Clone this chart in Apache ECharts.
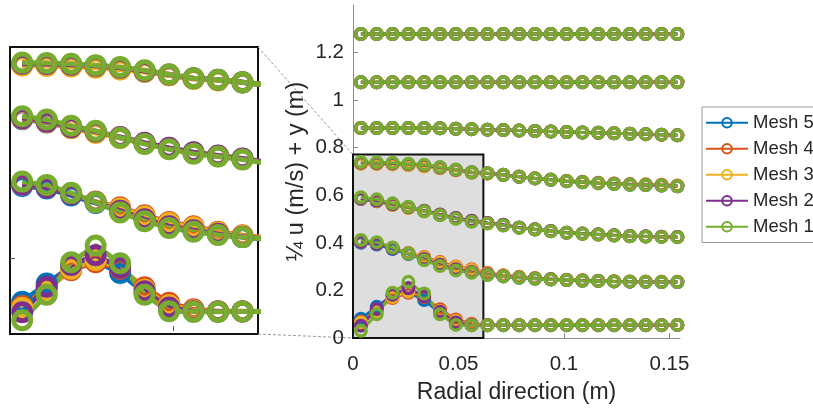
<!DOCTYPE html>
<html><head><meta charset="utf-8">
<script src="https://cdn.jsdelivr.net/npm/echarts@6/dist/echarts.min.js"></script>
<style>html,body{margin:0;padding:0;background:#fff}#c{width:813px;height:412px}</style>
</head><body><div id="c"></div>
<script>
const meshNames = ['Mesh 5', 'Mesh 4', 'Mesh 3', 'Mesh 2', 'Mesh 1'];
const meshColors = ['#0072BD', '#D95319', '#EDB120', '#7E2F8E', '#77AC30'];
const xPos = [0.00375, 0.01125, 0.01875, 0.02625, 0.03375, 0.04125, 0.04875, 0.05625, 0.06375, 0.07125, 0.07875, 0.08625, 0.09375, 0.10125, 0.10875, 0.11625, 0.12375, 0.13125, 0.13875, 0.14625, 0.15375];
const xTickValues = [0, 0.05, 0.1, 0.15];
const yTickValues = [0, 0.2, 0.4, 0.6, 0.8, 1, 1.2];
const insetXTickValues = [0.05];
const insetYTickValues = [0.2, 0.4, 0.6];
const zoomBoxX = [0, 0.0618];
const zoomBoxY = [0, 0.771];
const insetRangeX = [0, 0.076];
const insetRangeY = [-0.008, 0.783];

const p0_mesh1 = [0.030, 0.100, 0.190, 0.236, 0.187, 0.100, 0.055, 0.053, 0.053, 0.054, 0.054, 0.054, 0.054, 0.054, 0.054, 0.054, 0.054, 0.054, 0.054, 0.054, 0.055];
const p0_mesh2 = [0.052, 0.122, 0.182, 0.209, 0.175, 0.110, 0.065, 0.055, 0.054, 0.054, 0.054, 0.054, 0.054, 0.054, 0.054, 0.054, 0.054, 0.054, 0.054, 0.054, 0.055];
const p0_mesh3 = [0.064, 0.114, 0.172, 0.196, 0.178, 0.114, 0.071, 0.057, 0.054, 0.054, 0.054, 0.054, 0.054, 0.054, 0.054, 0.054, 0.054, 0.054, 0.054, 0.054, 0.055];
const p0_mesh4 = [0.069, 0.117, 0.168, 0.190, 0.172, 0.121, 0.078, 0.060, 0.055, 0.055, 0.054, 0.054, 0.054, 0.054, 0.054, 0.054, 0.054, 0.054, 0.054, 0.054, 0.055];
const p0_mesh5 = [0.081, 0.131, 0.178, 0.192, 0.160, 0.105, 0.060, 0.055, 0.054, 0.054, 0.054, 0.054, 0.054, 0.054, 0.054, 0.054, 0.054, 0.054, 0.054, 0.054, 0.055];

const p1_mesh1 = [0.412, 0.403, 0.381, 0.355, 0.327, 0.303, 0.284, 0.274, 0.265, 0.259, 0.253, 0.249, 0.246, 0.244, 0.241, 0.240, 0.238, 0.237, 0.236, 0.235, 0.235];
const p1_mesh2 = [0.404, 0.396, 0.377, 0.355, 0.332, 0.308, 0.289, 0.278, 0.268, 0.260, 0.254, 0.250, 0.247, 0.244, 0.242, 0.240, 0.238, 0.237, 0.236, 0.235, 0.235];
const p1_mesh3 = [0.404, 0.397, 0.378, 0.356, 0.338, 0.316, 0.298, 0.286, 0.272, 0.263, 0.256, 0.251, 0.247, 0.245, 0.242, 0.240, 0.239, 0.238, 0.237, 0.236, 0.236];
const p1_mesh4 = [0.405, 0.398, 0.379, 0.357, 0.341, 0.319, 0.301, 0.289, 0.274, 0.264, 0.257, 0.252, 0.248, 0.245, 0.243, 0.241, 0.239, 0.238, 0.237, 0.236, 0.236];
const p1_mesh5 = [0.400, 0.393, 0.374, 0.353, 0.330, 0.310, 0.290, 0.277, 0.266, 0.259, 0.253, 0.249, 0.246, 0.244, 0.241, 0.240, 0.238, 0.237, 0.236, 0.235, 0.235];

const p2_mesh1 = [0.592, 0.583, 0.566, 0.552, 0.533, 0.516, 0.501, 0.489, 0.481, 0.473, 0.463, 0.456, 0.449, 0.442, 0.438, 0.435, 0.431, 0.428, 0.427, 0.425, 0.424];
const p2_mesh2 = [0.587, 0.578, 0.562, 0.550, 0.535, 0.519, 0.505, 0.493, 0.484, 0.476, 0.465, 0.457, 0.450, 0.443, 0.439, 0.436, 0.432, 0.429, 0.428, 0.426, 0.425];
const p2_mesh3 = [0.586, 0.577, 0.559, 0.546, 0.532, 0.517, 0.503, 0.491, 0.482, 0.474, 0.464, 0.456, 0.449, 0.442, 0.438, 0.435, 0.431, 0.428, 0.427, 0.425, 0.424];
const p2_mesh4 = [0.585, 0.576, 0.560, 0.548, 0.534, 0.518, 0.504, 0.492, 0.483, 0.475, 0.464, 0.457, 0.450, 0.443, 0.439, 0.435, 0.432, 0.429, 0.427, 0.426, 0.425];
const p2_mesh5 = [0.584, 0.575, 0.561, 0.549, 0.533, 0.517, 0.503, 0.491, 0.482, 0.474, 0.464, 0.456, 0.449, 0.442, 0.438, 0.435, 0.431, 0.428, 0.427, 0.425, 0.424];

const p3_mesh1 = [0.740, 0.739, 0.737, 0.733, 0.728, 0.719, 0.708, 0.697, 0.693, 0.686, 0.678, 0.671, 0.665, 0.659, 0.655, 0.651, 0.647, 0.644, 0.643, 0.641, 0.638];
const p3_mesh2 = [0.737, 0.736, 0.734, 0.731, 0.726, 0.717, 0.707, 0.697, 0.693, 0.686, 0.678, 0.671, 0.665, 0.659, 0.655, 0.651, 0.648, 0.645, 0.643, 0.641, 0.638];
const p3_mesh3 = [0.732, 0.731, 0.729, 0.726, 0.721, 0.714, 0.705, 0.695, 0.691, 0.685, 0.678, 0.672, 0.666, 0.660, 0.656, 0.652, 0.649, 0.646, 0.644, 0.642, 0.640];
const p3_mesh4 = [0.733, 0.732, 0.730, 0.727, 0.722, 0.715, 0.705, 0.696, 0.692, 0.686, 0.679, 0.672, 0.666, 0.661, 0.657, 0.653, 0.650, 0.647, 0.646, 0.644, 0.641];
const p3_mesh5 = [0.735, 0.734, 0.732, 0.729, 0.724, 0.716, 0.706, 0.696, 0.692, 0.685, 0.678, 0.671, 0.665, 0.659, 0.655, 0.651, 0.647, 0.644, 0.643, 0.641, 0.638];

const p4_all = [0.883, 0.883, 0.883, 0.883, 0.883, 0.882, 0.880, 0.878, 0.876, 0.874, 0.872, 0.870, 0.868, 0.866, 0.864, 0.863, 0.861, 0.859, 0.857, 0.855, 0.852];
const p5_all = [1.075, 1.075, 1.075, 1.075, 1.075, 1.075, 1.075, 1.075, 1.075, 1.075, 1.075, 1.075, 1.075, 1.075, 1.075, 1.075, 1.075, 1.075, 1.075, 1.075, 1.075];
const p6_all = [1.278, 1.278, 1.278, 1.278, 1.278, 1.278, 1.278, 1.278, 1.278, 1.278, 1.278, 1.278, 1.278, 1.278, 1.278, 1.278, 1.278, 1.278, 1.278, 1.278, 1.278];

// order matches meshNames: Mesh 5, 4, 3, 2, 1 (Mesh 1 drawn on top)
const meshProfiles = [
  [p0_mesh5, p1_mesh5, p2_mesh5, p3_mesh5, p4_all, p5_all, p6_all],
  [p0_mesh4, p1_mesh4, p2_mesh4, p3_mesh4, p4_all, p5_all, p6_all],
  [p0_mesh3, p1_mesh3, p2_mesh3, p3_mesh3, p4_all, p5_all, p6_all],
  [p0_mesh2, p1_mesh2, p2_mesh2, p3_mesh2, p4_all, p5_all, p6_all],
  [p0_mesh1, p1_mesh1, p2_mesh1, p3_mesh1, p4_all, p5_all, p6_all]
];
const insetProfileCount = 4;

const FONT = "'Liberation Sans', Arial, Helvetica, sans-serif";
const TXT = '#262626';
const AXC = '#8a8a8a';

const chart = echarts.init(document.getElementById('c'), null, {renderer: 'canvas'});

const series = [];
meshProfiles.forEach((profiles, m) => {
  profiles.forEach((prof, p) => {
    const s = {
      type: 'line', name: meshNames[m], xAxisIndex: 0, yAxisIndex: 0,
      data: xPos.map((x, i) => [x, prof[i]]),
      symbol: 'circle', symbolSize: 10.5, showSymbol: true, showAllSymbol: true,
      lineStyle: {color: meshColors[m], width: 3},
      itemStyle: {color: 'rgba(255,255,255,0)', borderColor: meshColors[m], borderWidth: 3.5},
      emphasis: {disabled: true}, animation: false, z: 2
    };
    if (m === 0 && p === 0) {
      s.markArea = {
        silent: true, z: 1,
        itemStyle: {color: '#dedede', borderColor: '#111', borderWidth: 2},
        data: [[{coord: [zoomBoxX[0], zoomBoxY[0]]}, {coord: [zoomBoxX[1], zoomBoxY[1]]}]]
      };
    }
    series.push(s);
  });
});
meshProfiles.forEach((profiles, m) => {
  profiles.slice(0, insetProfileCount).forEach((prof) => {
    series.push({
      type: 'line', name: meshNames[m], xAxisIndex: 1, yAxisIndex: 1,
      data: xPos.map((x, i) => [x, prof[i]]),
      symbol: 'circle', symbolSize: 17, showSymbol: true, showAllSymbol: true,
      lineStyle: {color: meshColors[m], width: 5},
      itemStyle: {color: 'rgba(255,255,255,0)', borderColor: meshColors[m], borderWidth: 5},
      emphasis: {disabled: true}, animation: false, clip: true, z: 2
    });
  });
});

chart.setOption({
  animation: false,
  backgroundColor: '#fff',
  textStyle: {fontFamily: FONT, color: TXT},
  grid: [
    {left: 353, right: 133, top: 5, bottom: 74, show: false},
    {left: 10, width: 248, top: 47, height: 287, show: true, backgroundColor: '#fff', borderColor: '#111', borderWidth: 2, z: 0}
  ],
  legend: {
    orient: 'vertical', left: 702, top: 107,
    data: meshNames,
    itemWidth: 42, itemHeight: 12, itemGap: 6.5,
    padding: [6, 10, 6, 3],
    backgroundColor: '#fff', borderColor: '#9a9a9a', borderWidth: 1,
    textStyle: {fontFamily: FONT, fontSize: 18.5, color: TXT, lineHeight: 19.5},
    selectedMode: false
  },
  xAxis: [
    {
      type: 'value', gridIndex: 0, min: 0, max: 0.155,
      name: 'Radial direction (m)', nameLocation: 'middle', nameGap: 43,
      nameTextStyle: {fontFamily: FONT, fontSize: 23, color: TXT},
      axisLine: {show: true, lineStyle: {color: AXC, width: 1}},
      axisTick: {show: true, inside: true, length: 5, lineStyle: {color: AXC}, customValues: xTickValues},
      axisLabel: {fontFamily: FONT, fontSize: 20.5, color: TXT, margin: 16, customValues: xTickValues,
        formatter: v => String(v)},
      splitLine: {show: false}
    },
    {
      type: 'value', gridIndex: 1, min: insetRangeX[0], max: insetRangeX[1],
      axisLine: {show: false},
      axisTick: {show: true, inside: true, length: 5, lineStyle: {color: '#555'}, customValues: insetXTickValues},
      axisLabel: {show: false},
      splitLine: {show: false}
    }
  ],
  yAxis: [
    {
      type: 'value', gridIndex: 0, min: 0, max: 1.4,
      name: '\u00BC u (m/s) + y (m)', nameLocation: 'middle', nameGap: 44, nameRotate: 90,
      nameTextStyle: {fontFamily: FONT, fontSize: 23.5, color: TXT},
      axisLine: {show: true, lineStyle: {color: AXC, width: 1}},
      axisTick: {show: true, inside: true, length: 5, lineStyle: {color: AXC}, customValues: yTickValues},
      axisLabel: {fontFamily: FONT, fontSize: 20.5, color: TXT, margin: 9, customValues: yTickValues,
        formatter: v => String(v)},
      splitLine: {show: false}
    },
    {
      type: 'value', gridIndex: 1, min: insetRangeY[0], max: insetRangeY[1],
      axisLine: {show: false},
      axisTick: {show: true, inside: true, length: 5, lineStyle: {color: '#555'}, customValues: insetYTickValues},
      axisLabel: {show: false},
      splitLine: {show: false}
    }
  ],
  series: series
});

// dashed connectors from the inset to the zoomed region
const insetTR = chart.convertToPixel({xAxisIndex: 1, yAxisIndex: 1}, [insetRangeX[1], insetRangeY[1]]);
const insetBR = chart.convertToPixel({xAxisIndex: 1, yAxisIndex: 1}, [insetRangeX[1], insetRangeY[0]]);
const boxTL = chart.convertToPixel({xAxisIndex: 0, yAxisIndex: 0}, [zoomBoxX[0], zoomBoxY[1]]);
const boxBL = chart.convertToPixel({xAxisIndex: 0, yAxisIndex: 0}, [zoomBoxX[0], zoomBoxY[0]]);
chart.setOption({
  graphic: [
    {type: 'line', z: 0, silent: true, shape: {x1: insetTR[0], y1: insetTR[1], x2: boxTL[0], y2: boxTL[1]},
      style: {stroke: '#9a9a9a', lineWidth: 1, lineDash: [3, 2]}},
    {type: 'line', z: 0, silent: true, shape: {x1: insetBR[0], y1: insetBR[1], x2: boxBL[0], y2: boxBL[1]},
      style: {stroke: '#9a9a9a', lineWidth: 1, lineDash: [3, 2]}}
  ]
});
</script>
</body></html>
